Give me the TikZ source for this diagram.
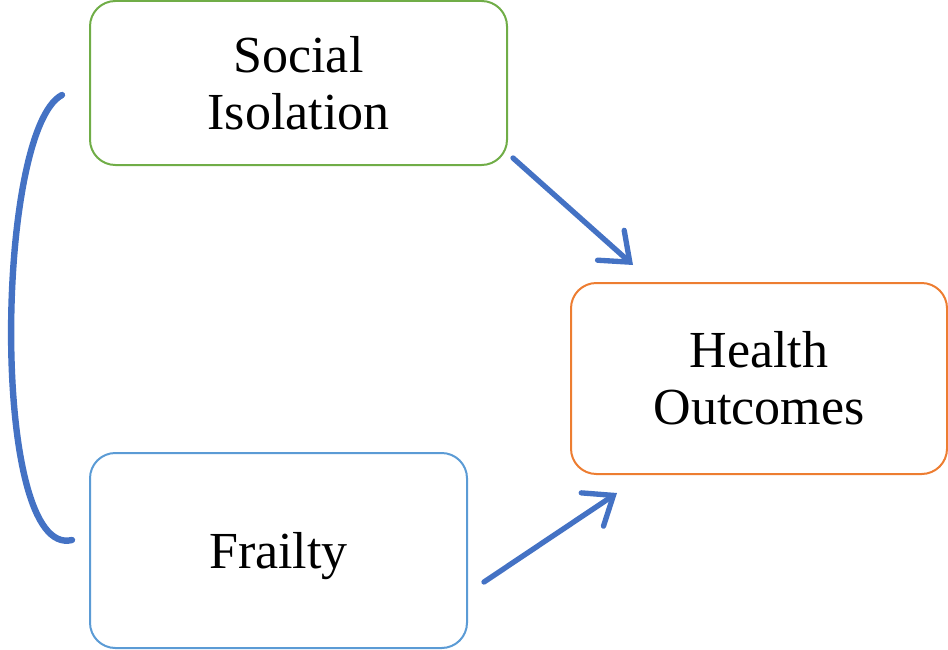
\documentclass[tikz,border=0pt]{standalone}
\usepackage{fontspec}
\setmainfont{Liberation Serif}
\usetikzlibrary{arrows.meta}
\definecolor{isogreen}{HTML}{70AD47}
\definecolor{outorange}{HTML}{ED7D31}
\definecolor{frailblue}{HTML}{5B9BD5}
\definecolor{linkblue}{HTML}{4472C4}

\begin{document}
\begin{tikzpicture}[x=0.75pt,y=-0.75pt,
   box/.style={draw,line width=1.5pt,rounded corners=19pt,align=center,
     font=\fontsize{39}{43}\selectfont,inner sep=0pt},
   link/.style={draw=linkblue,line width=4pt,line cap=round,
     -{Straight Barb[length=19pt,width=30pt,line cap=round]}}
]
  \useasboundingbox (0,0) rectangle (948,649);
  \node[box,draw=isogreen,minimum width=312.75pt,minimum height=123pt] (social) at (298.5,83) {Social\\Isolation};
  \node[box,draw=outorange,minimum width=282pt,minimum height=143.25pt] (health) at (759,378.5) {Health\\Outcomes};
  \node[box,draw=frailblue,minimum width=282.75pt,minimum height=146.25pt] (frailty) at (278.5,550.5) {\rule{0pt}{35pt}Frailty};
  \coordinate (s1) at (513,158);
  \coordinate (h1) at (633,265);
  \coordinate (f1) at (484,582);
  \coordinate (h2) at (617,493);
  \coordinate (b1) at (62,95);
  \coordinate (b2) at (72,540);
  \draw[link] (s1) -- (h1);
  \draw[link] (f1) -- (h2);
  % link between the two factors
  \draw[linkblue,line width=4.8pt,line cap=round] (b1) .. controls (-5,130) and (-10,560) .. (b2);
\end{tikzpicture}
\end{document}
